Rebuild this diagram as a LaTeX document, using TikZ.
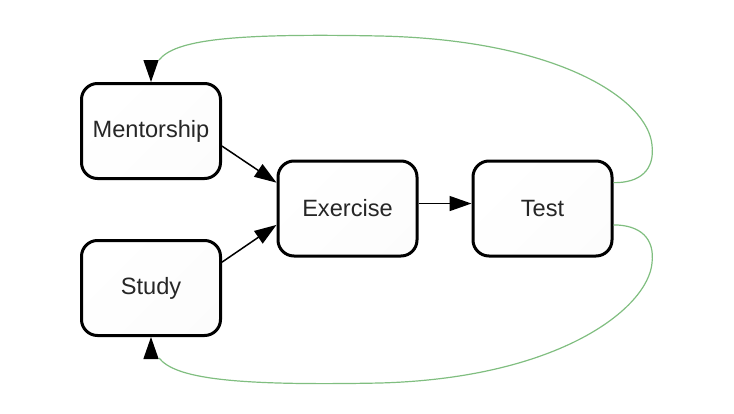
\documentclass[tikz,border=0pt]{standalone}
\usepackage{fontspec}
\setmainfont{Liberation Sans}
\usetikzlibrary{arrows.meta}
\definecolor{loopgreen}{RGB}{128,190,128}
\tikzset{
  box/.style={draw=black, line width=1.5pt, rounded corners=8pt,
    minimum width=69.5pt, minimum height=47.5pt, inner sep=0pt,
    top color=white, bottom color=black!1, shading angle=45,
    font=\fontsize{11.8}{14}\selectfont, text=black!85},
  flow/.style={line width=0.75pt, -{Triangle[length=11pt,width=7.5pt]}},
  loop/.style={draw=loopgreen, line width=0.6pt},
  tip/.style={line width=0.6pt, -{Triangle[length=11pt,width=7.5pt]}}
}
\begin{document}
\begin{tikzpicture}[x=0.5pt,y=-0.5pt]
\useasboundingbox (0,0) rectangle (734,413);
\node[box] (ment) at (151,131) {Mentorship};
\node[box] (study) at (151,288) {Study};
\node[box] (exer) at (347.5,208.5) {Exercise};
\node[box] (test) at (542.5,208.5) {Test};
\coordinate (mtop) at (151,60);
\coordinate (sbot) at (151,358);
\draw[flow] (ment.-12.7) -- (exer.160);
\draw[flow] (study.20) -- (exer.193);
\draw[flow] (exer.4) -- (test.176);
\draw[loop] (test.20) .. controls (640,183) and (655,170) .. (652,145)
  .. controls (648,100) and (560,40) .. (380,36)
  .. controls (230,33) and (175,40) .. ([xshift=4]mtop);
\draw[tip] (mtop) -- (ment.north);
\draw[loop] (test.-13) .. controls (640,225) and (655,238) .. (652,263)
  .. controls (648,308) and (560,378) .. (380,383)
  .. controls (230,386) and (175,378) .. ([xshift=4]sbot);
\draw[tip] (sbot) -- (study.south);
\end{tikzpicture}
\end{document}
